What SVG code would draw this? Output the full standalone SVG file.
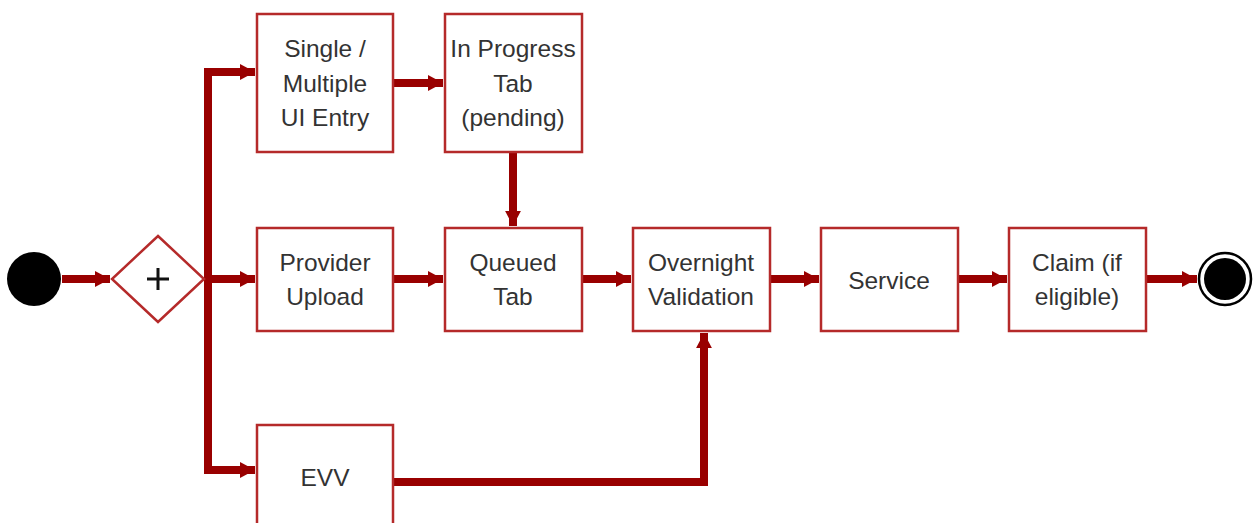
<svg xmlns="http://www.w3.org/2000/svg" width="1255" height="523" viewBox="0 0 1255 523">
<style>
.box{fill:#fff;stroke:#b52a2a;stroke-width:2.5}
.t{font-family:"Liberation Sans",Arial,sans-serif;font-size:24.5px;fill:#333;text-anchor:middle}
.c{fill:none;stroke:#990000;stroke-width:8}
</style>
<defs>
<marker id="ah" markerWidth="3" markerHeight="3" refX="1.9" refY="1.5" orient="auto" markerUnits="strokeWidth">
<path d="M0,0.5 L1.9,1.5 L0,2.5 Z" fill="#990000"/>
</marker>
</defs>
<rect width="1255" height="523" fill="#fff"/>
<g id="connectors">
<path class="c" d="M62,279 H110" marker-end="url(#ah)"/>
<path class="c" d="M208,68 V474"/>
<path class="c" d="M204,72 H255" marker-end="url(#ah)"/>
<path class="c" d="M204,279 H255" marker-end="url(#ah)"/>
<path class="c" d="M204,470 H255" marker-end="url(#ah)"/>
<path class="c" d="M394,83 H443" marker-end="url(#ah)"/>
<path class="c" d="M513,152 V226" marker-end="url(#ah)"/>
<path class="c" d="M394,279 H443" marker-end="url(#ah)"/>
<path class="c" d="M583,279 H631" marker-end="url(#ah)"/>
<path class="c" d="M771,279 H819" marker-end="url(#ah)"/>
<path class="c" d="M959,279 H1007" marker-end="url(#ah)"/>
<path class="c" d="M1147,279 H1197" marker-end="url(#ah)"/>
<path class="c" d="M394,482 H704 V333" marker-end="url(#ah)"/>
</g>
<g id="start"><circle cx="34" cy="279" r="27" fill="#000"/></g>
<g id="fork">
<path d="M158,236 L204,279 L158,322 L112,279 Z" fill="#fff" stroke="#b52a2a" stroke-width="2.5"/>
<path d="M158,268 V290 M147,279 H169" stroke="#111" stroke-width="3"/>
</g>
<g id="single"><rect class="box" x="257" y="14" width="136" height="138"/>
<text class="t" x="325" y="57">Single /</text><text class="t" x="325" y="92">Multiple</text><text class="t" x="325" y="126">UI Entry</text></g>
<g id="inprogress"><rect class="box" x="445" y="14" width="137" height="138"/>
<text class="t" x="513" y="57">In Progress</text><text class="t" x="513" y="92">Tab</text><text class="t" x="513" y="126">(pending)</text></g>
<g id="provider"><rect class="box" x="257" y="228" width="136" height="103"/>
<text class="t" x="325" y="271">Provider</text><text class="t" x="325" y="305">Upload</text></g>
<g id="queued"><rect class="box" x="445" y="228" width="137" height="103"/>
<text class="t" x="513" y="271">Queued</text><text class="t" x="513" y="305">Tab</text></g>
<g id="overnight"><rect class="box" x="633" y="228" width="137" height="103"/>
<text class="t" x="701" y="271">Overnight</text><text class="t" x="701" y="305">Validation</text></g>
<g id="service"><rect class="box" x="821" y="228" width="137" height="103"/>
<text class="t" x="889" y="289">Service</text></g>
<g id="claim"><rect class="box" x="1009" y="228" width="137" height="103"/>
<text class="t" x="1077" y="271">Claim (if</text><text class="t" x="1077" y="305">eligible)</text></g>
<g id="evv"><rect class="box" x="257" y="425" width="136" height="110"/>
<text class="t" x="325" y="486">EVV</text></g>
<g id="end"><circle cx="1225" cy="279" r="26" fill="#fff" stroke="#000" stroke-width="2.5"/><circle cx="1225" cy="279" r="21" fill="#000"/></g>
</svg>
